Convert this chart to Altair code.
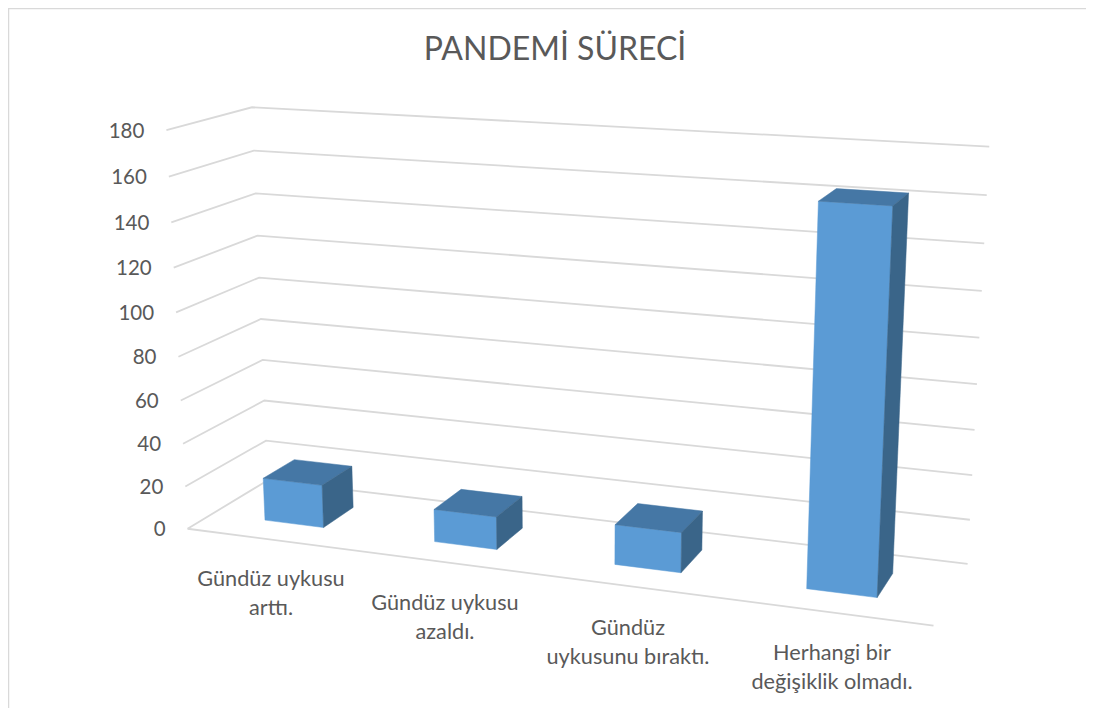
import altair as alt
import numpy as np
import pandas as pd

# ---- data ----
categories = ["Gündüz uykusu\narttı.", "Gündüz uykusu\nazaldı.", "Gündüz\nuykusunu bıraktı.", "Herhangi bir\ndeğişiklik olmadı."]
values = [20, 15, 18, 163]
ticks = [0, 20, 40, 60, 80, 100, 120, 140, 160, 180]
title = "PANDEMİ SÜRECİ"

# ---- layout: 3-D camera calibration (grid corner -> page pixel) ----
VMAX = 180
front_left = [(188,528),(185,487),(183,443),(181,400),(178,358),(176,312),(174,268),(172,222),(169,176),(166,130)]
back_left = [(270,481),(265,440),(263,401),(262,360),(260,319),(259,278),(258,236),(256,193),(254,151),(252,107)]
back_right = [(966,563),(970,519),(973,475),(975,430),(978,384),(980,338),(983,291),(984,243),(986,195),(988,147)]
front_right_floor = (933,627)
label_anchor = [(271,579),(445,603),(628,628),(832,653)]
BAR_W = 0.088
BAR_SHIFT = -0.001
DEPTH = (0.3, 0.7)

src, dst = [], []
for i, t in enumerate(ticks):
    v = t / VMAX
    src += [(0,0,v),(0,1,v),(1,1,v)]
    dst += [front_left[i], back_left[i], back_right[i]]
src.append((1,0,0)); dst.append(front_right_floor)
A = []
for (X,Y,Z),(u,w) in zip(src,dst):
    u, w = u/1000, w/1000
    A.append([X,Y,Z,1,0,0,0,0,-u*X,-u*Y,-u*Z,-u])
    A.append([0,0,0,0,X,Y,Z,1,-w*X,-w*Y,-w*Z,-w])
P = np.linalg.svd(np.array(A, float))[2][-1].reshape(3,4)

def project(c, d, val):
    q = P @ np.array([c, d, val / VMAX, 1.0])
    return 1000*q[0]/q[2], 1000*q[1]/q[2]

# grid polylines
grid = []
def add_line(name, pts):
    for i,(c,d,val) in enumerate(pts):
        x,y = project(c,d,val)
        grid.append(dict(line=name,i=i,x=x,y=y))
for t in ticks:
    add_line(f"g{t}", [(0,0,t),(0,1,t),(1,1,t)])
add_line("front", [(0,0,0),(1,0,0)])
grid_df = pd.DataFrame(grid)

# bar faces
faces = []
def add_face(name, kind, pts):
    for i,(c,d,val) in enumerate(pts):
        x,y = project(c,d,val)
        faces.append(dict(poly=name,face=kind,i=i,x=x,y=y))
for k,val in enumerate(values):
    cm = (k+0.5)/len(values) + BAR_SHIFT
    c0,c1 = cm-BAR_W/2, cm+BAR_W/2
    d0,d1 = DEPTH
    add_face(f"f{k}","front",[(c0,d0,0),(c1,d0,0),(c1,d0,val),(c0,d0,val),(c0,d0,0)])
    add_face(f"t{k}","top",[(c0,d0,val),(c1,d0,val),(c1,d1,val),(c0,d1,val),(c0,d0,val)])
    add_face(f"s{k}","side",[(c1,d0,0),(c1,d1,0),(c1,d1,val),(c1,d0,val),(c1,d0,0)])
face_df = pd.DataFrame(faces)

tick_df = pd.DataFrame([dict(label=str(t), x=project(0,0,t)[0]-22, y=project(0,0,t)[1]+1.5) for t in ticks])
cat_df = pd.DataFrame([dict(label=c, x=a[0], y=a[1]) for c,a in zip(categories,label_anchor)])
title_df = pd.DataFrame([dict(label=title, x=555, y=50)])
border_df = pd.DataFrame([dict(x=8.5,y=708),dict(x=8.5,y=8.5),dict(x=1086,y=8.5)]).assign(i=[0,1,2])

W, H = 1078, 700
X = alt.X("x:Q", axis=None, scale=alt.Scale(domain=[8,8+W]))
Y = alt.Y("y:Q", axis=None, scale=alt.Scale(domain=[8+H,8]))

border = alt.Chart(border_df).mark_line(stroke="#d9d9d9", strokeWidth=1.5).encode(x=X,y=Y,order="i:Q")
grid_l = alt.Chart(grid_df).mark_line(stroke="#d9d9d9", strokeWidth=1.8).encode(x=X,y=Y,order="i:Q",detail="line:N")
fs = alt.Scale(domain=["front","top","side"], range=["#5b9bd5","#4577a5","#3a6589"])
bars = alt.Chart(face_df).mark_line(strokeWidth=0.5).encode(
    x=X,y=Y,order="i:Q",detail="poly:N",
    fill=alt.Fill("face:N",scale=fs,legend=None),
    stroke=alt.Stroke("face:N",scale=fs,legend=None))
font = "Lato"
tk = alt.Chart(tick_df).mark_text(align="right",baseline="middle",font=font,fontSize=20.5,color="#595959").encode(x=X,y=Y,text="label:N")
cat = alt.Chart(cat_df).mark_text(align="center",baseline="middle",font=font,fontSize=21.7,color="#595959",lineBreak="\n",lineHeight=29).encode(x=X,y=Y,text="label:N")
ttl = alt.Chart(title_df).mark_text(align="center",baseline="middle",font=font,fontSize=32,color="#595959").encode(x=X,y=Y,text="label:N")

chart = alt.layer(border,grid_l,bars,tk,cat,ttl).properties(
    width=W,height=H,padding=0,autosize=alt.AutoSizeParams(type="none")
).configure_view(stroke=None)
chart.save("out.html", embed_options={"renderer":"svg","actions":False})
